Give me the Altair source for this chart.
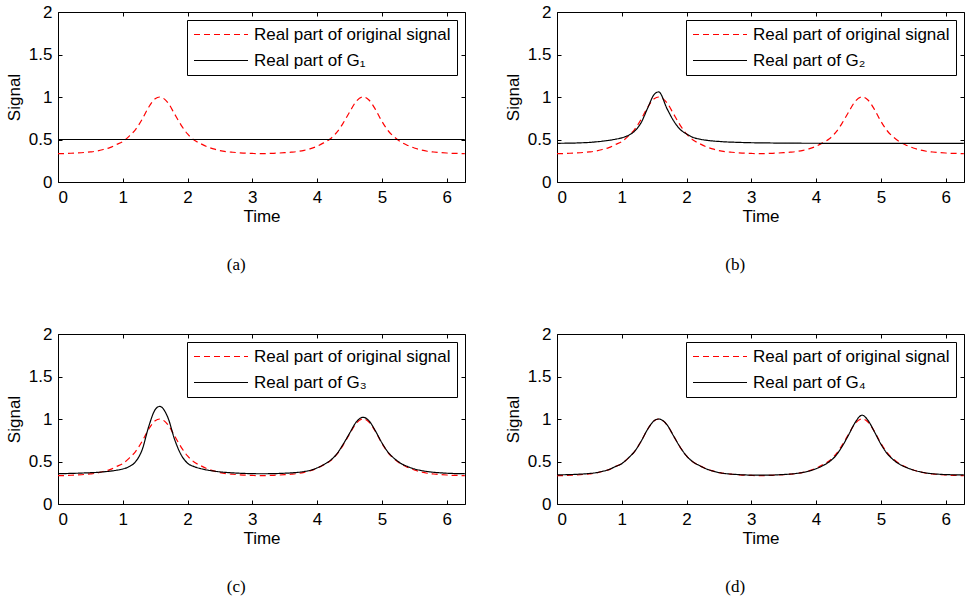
import altair as alt
import pandas as pd

# ---- data ----
T = [0.0, 0.1, 0.2, 0.3, 0.4, 0.5, 0.6, 0.7, 0.8, 0.9,
     1.0, 1.1, 1.2, 1.3, 1.4, 1.5, 1.57, 1.7, 1.8, 1.9,
     2.0, 2.1, 2.2, 2.3, 2.4, 2.5, 2.6, 2.7, 2.8, 2.9,
     3.0, 3.1, 3.2, 3.3, 3.4, 3.5, 3.6, 3.7, 3.8, 3.9,
     4.0, 4.1, 4.2, 4.3, 4.4, 4.5, 4.6, 4.71, 4.8, 4.9,
     5.0, 5.1, 5.2, 5.3, 5.4, 5.5, 5.6, 5.7, 5.8, 5.9,
     6.0, 6.1, 6.2, 6.28]

ORIGINAL = [0.333, 0.335, 0.338, 0.342, 0.347, 0.354, 0.364, 0.382, 0.404, 0.44,
            0.475, 0.54, 0.62, 0.74, 0.88, 0.98, 1.0, 0.93, 0.80, 0.67,
            0.565, 0.495, 0.452, 0.415, 0.389, 0.37, 0.357, 0.35, 0.344, 0.339,
            0.336, 0.334, 0.334, 0.337, 0.34, 0.345, 0.351, 0.359, 0.373, 0.393,
            0.421, 0.46, 0.505, 0.58, 0.69, 0.82, 0.945, 1.0, 0.965, 0.855,
            0.715, 0.60, 0.525, 0.468, 0.43, 0.40, 0.378, 0.362, 0.353, 0.346,
            0.341, 0.337, 0.335, 0.333]

G1_T = [0.0, 6.28]
G1 = [0.5, 0.5]

G2 = [0.455, 0.456, 0.457, 0.459, 0.462, 0.466, 0.472, 0.48, 0.49, 0.503,
      0.52, 0.548, 0.60, 0.70, 0.87, 1.03, 1.06, 0.86, 0.72, 0.62,
      0.565, 0.525, 0.505, 0.492, 0.483, 0.477, 0.472, 0.469, 0.466, 0.464,
      0.462, 0.461, 0.46, 0.459, 0.458, 0.458, 0.457, 0.457, 0.456, 0.456,
      0.456, 0.455, 0.455, 0.455, 0.455, 0.455, 0.455, 0.455, 0.455, 0.455,
      0.455, 0.455, 0.455, 0.455, 0.455, 0.455, 0.455, 0.455, 0.455, 0.455,
      0.455, 0.455, 0.455, 0.455]

G3 = [0.357, 0.358, 0.36, 0.362, 0.365, 0.368, 0.372, 0.378, 0.386, 0.397,
      0.412, 0.44, 0.50, 0.64, 0.91, 1.11, 1.148, 1.01, 0.76, 0.58,
      0.48, 0.44, 0.417, 0.40, 0.388, 0.378, 0.371, 0.366, 0.362, 0.359,
      0.357, 0.356, 0.356, 0.357, 0.359, 0.362, 0.366, 0.372, 0.382, 0.397,
      0.425, 0.462, 0.51, 0.585, 0.70, 0.83, 0.96, 1.02, 0.98, 0.86,
      0.72, 0.605, 0.53, 0.475, 0.44, 0.413, 0.395, 0.382, 0.373, 0.367,
      0.362, 0.359, 0.357, 0.357]

G4 = [0.343, 0.344, 0.346, 0.349, 0.353, 0.359, 0.368, 0.384, 0.405, 0.44,
      0.475, 0.54, 0.62, 0.74, 0.88, 0.98, 1.0, 0.93, 0.80, 0.67,
      0.565, 0.495, 0.452, 0.415, 0.389, 0.37, 0.358, 0.351, 0.346, 0.342,
      0.34, 0.339, 0.339, 0.34, 0.343, 0.347, 0.352, 0.36, 0.372, 0.39,
      0.415, 0.45, 0.495, 0.565, 0.675, 0.81, 0.955, 1.045, 0.985, 0.85,
      0.705, 0.59, 0.515, 0.462, 0.428, 0.40, 0.38, 0.365, 0.356, 0.35,
      0.346, 0.344, 0.343, 0.343]

LABEL_ORIG = "Real part of original signal"
G_LABELS = ["Real part of G\u2081", "Real part of G\u2082",
            "Real part of G\u2083", "Real part of G\u2084"]
CAPTIONS = ["(a)", "(b)", "(c)", "(d)"]
X_TICKS = [0, 1, 2, 3, 4, 5, 6]
Y_TICKS = [0, 0.5, 1, 1.5, 2]
X_MAX = 6.2832
Y_MAX = 2

FONT = "Liberation Sans"
PW, PH = 407, 170


def panel(g_t, g_vals, g_label, caption):
    orig = pd.DataFrame({"t": T, "v": ORIGINAL, "s": LABEL_ORIG})
    gdf = pd.DataFrame({"t": g_t, "v": g_vals, "s": g_label})
    domain = [LABEL_ORIG, g_label]
    xs = alt.Scale(domain=[0, X_MAX], nice=False, zero=False)
    ys = alt.Scale(domain=[0, Y_MAX], nice=False)
    leg = alt.Legend(orient="top-right", offset=8, padding=6,
                     strokeColor="black", fillColor="white",
                     symbolType="stroke", symbolSize=2916,
                     symbolStrokeWidth=1.2, labelFontSize=17,
                     labelFont=FONT, labelColor="black", labelOffset=5,
                     rowPadding=8, clipHeight=17, labelLimit=400)
    color = alt.Color("s:N", scale=alt.Scale(domain=domain, range=["#ff0000", "#000000"]),
                      legend=leg, title=None)
    dash = alt.StrokeDash("s:N", scale=alt.Scale(domain=domain, range=[[6, 4], [1, 0]]),
                          legend=leg, title=None)

    ax_bottom = alt.Axis(orient="bottom", values=X_TICKS, offset=-4, tickSize=4,
                         domain=False, grid=False, labelPadding=7, title="Time",
                         titlePadding=3)
    ax_top = alt.Axis(orient="top", values=X_TICKS, offset=-4, tickSize=4,
                      domain=False, grid=False, labels=False, title="")
    ax_left = alt.Axis(orient="left", values=Y_TICKS, format="~g", offset=-4, tickSize=4,
                       domain=False, grid=False, labelPadding=6, title="Signal",
                       titlePadding=5)
    ax_right = alt.Axis(orient="right", values=Y_TICKS, offset=-4, tickSize=4,
                        domain=False, grid=False, labels=False, title="")

    red = alt.Chart(orig).mark_line(strokeWidth=1.2, interpolate="monotone").encode(
        x=alt.X("t:Q", scale=xs, axis=ax_bottom),
        y=alt.Y("v:Q", scale=ys, axis=ax_left),
        color=color, strokeDash=dash)
    black = alt.Chart(gdf).mark_line(strokeWidth=1.2, interpolate="monotone").encode(
        x=alt.X("t:Q", scale=xs, axis=ax_top),
        y=alt.Y("v:Q", scale=ys, axis=ax_right),
        color=color, strokeDash=dash)
    return alt.layer(red, black).resolve_axis(x="independent", y="independent").properties(
        width=PW, height=PH,
        title=alt.TitleParams(caption, orient="bottom", anchor="middle", frame="bounds",
                              offset=33, font="Liberation Serif", fontSize=17,
                              fontWeight="normal", color="black"))


pa = panel(G1_T, G1, G_LABELS[0], CAPTIONS[0])
pb = panel(T, G2, G_LABELS[1], CAPTIONS[1])
pc = panel(T, G3, G_LABELS[2], CAPTIONS[2])
pd_ = panel(T, G4, G_LABELS[3], CAPTIONS[3])

row1 = alt.hconcat(pa, pb, spacing=35).resolve_scale(color="independent", strokeDash="independent")
row2 = alt.hconcat(pc, pd_, spacing=35).resolve_scale(color="independent", strokeDash="independent")

chart = alt.vconcat(row1, row2, spacing=50).resolve_scale(
    color="independent", strokeDash="independent"
).properties(
    padding={"left": 4, "top": 2, "right": 0, "bottom": 0},
    background="white",
).configure_view(
    stroke="black", strokeWidth=1
).configure_axis(
    labelFont=FONT, labelFontSize=17, titleFont=FONT, titleFontSize=17,
    titleFontWeight="normal", labelColor="black", titleColor="black",
    tickColor="black"
)

chart.save("out.html", embed_options={"renderer": "svg", "actions": False})
